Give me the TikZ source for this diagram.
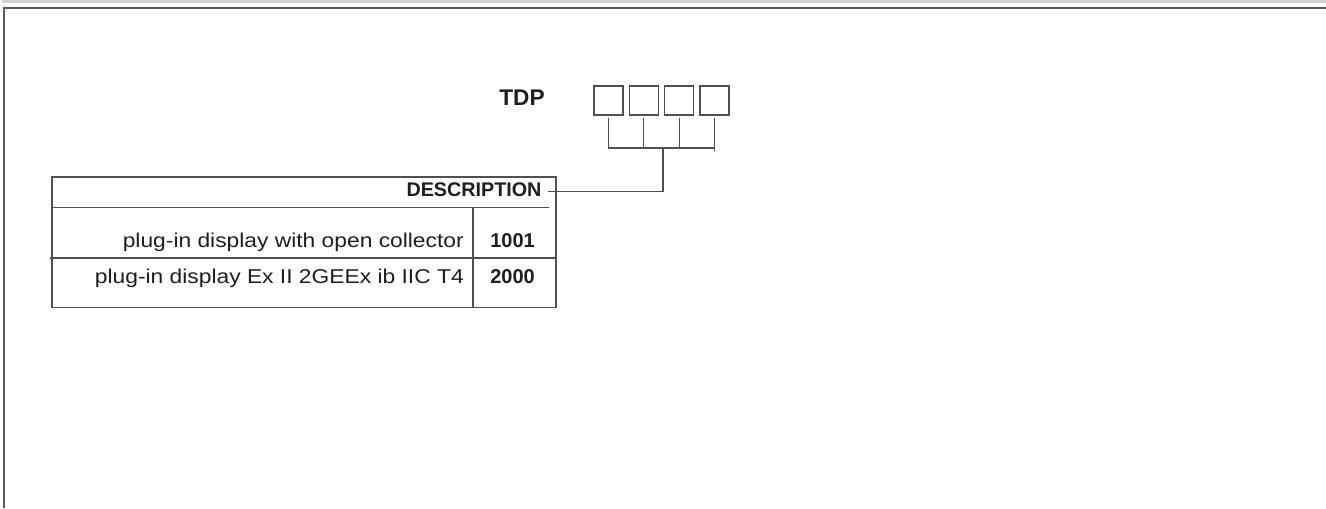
\documentclass[tikz,border=0pt]{standalone}
\usepackage{fontspec}
\setmainfont{Liberation Sans}
\definecolor{txt}{HTML}{1E1E1E}
\definecolor{ln}{HTML}{505050}
\definecolor{band}{HTML}{D2D2D2}
\definecolor{frame}{HTML}{5A5A5A}
\newcommand{\wide}[1]{\scalebox{1.14}[1]{#1}}
\begin{document}
\begin{tikzpicture}[x=0.75pt,y=-0.75pt,
  digit/.style={draw=ln,line width=0.9pt,minimum width=21.75pt,minimum height=21.75pt,inner sep=0pt},
  wire/.style={draw=ln,line width=0.8pt},
  tline/.style={draw=ln,line width=0.8pt},
  body/.style={font=\fontsize{15}{15}\selectfont,text=txt,inner sep=0pt},
  bodyb/.style={font=\fontsize{15}{15}\selectfont\bfseries,text=txt,inner sep=0pt}]
\useasboundingbox (0,0) rectangle (1326,508);
% page frame
\fill[band] (2,0) rectangle (1326,3);
\draw[frame,line width=1.5pt] (4,508) -- (4,7.5) -- (1326,7.5);
% title
\node[font=\fontsize{17}{17}\selectfont\bfseries,text=txt,inner sep=0pt,anchor=base] (tdp) at (522,105) {TDP};
% digit boxes
\node[digit] (b1) at (608.5,100.5) {};
\node[digit] (b2) at (643.8,100.5) {};
\node[digit] (b3) at (679.2,100.5) {};
\node[digit] (b4) at (714.5,100.5) {};
% connector tree
\coordinate (j) at (663,148);
\coordinate (lend) at (548,191.5);
\draw[wire] ([yshift=-1.5pt]b1.south) -- (b1.south |- j) -- (b4.south |- j);
\draw[wire] ([yshift=-1.5pt]b2.south) -- (b2.south |- j);
\draw[wire] ([yshift=-1.5pt]b3.south) -- (b3.south |- j);
\draw[wire] ([yshift=-1.5pt]b4.south) -- ([yshift=-2.5pt]b4.south |- j);
% table
\node[font=\fontsize{14.8}{14.8}\selectfont\bfseries,text=txt,inner sep=0pt,anchor=base east] (desc) at (541.7,196.7) {DESCRIPTION};
\draw[wire] (j) |- (lend);
\draw[tline] (52,177) rectangle (556,307.5);
\draw[tline] (52,207.7) -- (549,207.7);
\draw[tline] (473,207.7) -- (473,307.5);
\draw[tline] (50,258) -- (556,258);
\node[body,anchor=base east] (r1) at (464,247.5) {\wide{plug-in display with open collector}};
\node[body,anchor=base east] (r2) at (464,283.5) {\wide{plug-in display Ex II 2GEEx ib IIC T4}};
\node[bodyb,anchor=base] (c1) at (512.5,247.5) {1001};
\node[bodyb,anchor=base] (c2) at (512.5,283.5) {2000};
\end{tikzpicture}
\end{document}
